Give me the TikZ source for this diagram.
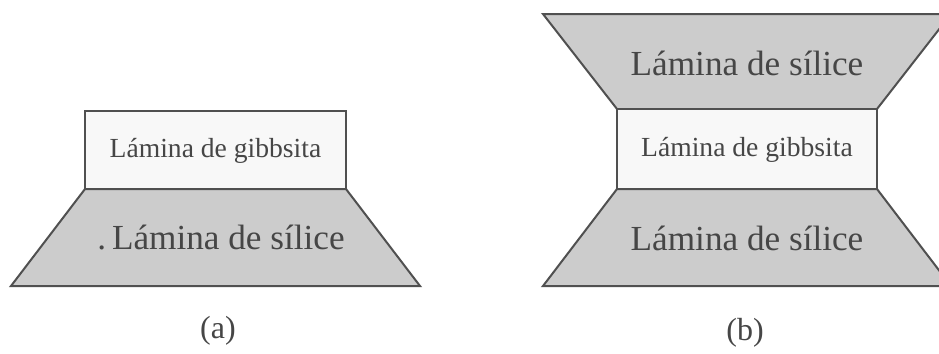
\documentclass[tikz,border=0pt]{standalone}
\usepackage{fontspec}
\setmainfont{Liberation Serif}
\definecolor{linea}{RGB}{80,80,80}
\definecolor{texto}{RGB}{70,70,70}
\definecolor{silfill}{RGB}{204,204,204}
\definecolor{gibfill}{RGB}{248,248,248}

\begin{document}
\begin{tikzpicture}[x=0.5pt, y=-0.5pt,
    lamina/.style={draw=linea, line width=1pt, line join=miter},
    txtgib/.style={text=texto, font=\fontsize{13.8}{16}\selectfont},
    txtsil/.style={text=texto, font=\fontsize{17.6}{20}\selectfont},
    rotulo/.style={text=texto, font=\fontsize{16}{18}\selectfont}]
      \useasboundingbox (0,0) rectangle (939,354);
      \clip (0,0) rectangle (939,354);

      % (a): gibbsita sobre una lamina de silice
      \draw[lamina, fill=gibfill] (85,111) rectangle (346,189);
      \draw[lamina, fill=silfill] (85,189) -- (346,189) -- (420,286) -- (11,286) -- cycle;
      \node[txtgib] (gibA) at (215.5,151) {Lámina de gibbsita};
      \node[txtsil] (silA) at (221,238) {.\,Lámina de sílice};
      \node[rotulo] (a) at (218,331) {(a)};

      % (b): gibbsita entre dos laminas de silice
      \draw[lamina, fill=silfill] (543,14) -- (951,14) -- (877,109) -- (617,109) -- cycle;
      \draw[lamina, fill=gibfill] (617,109) rectangle (877,189);
      \draw[lamina, fill=silfill] (617,189) -- (877,189) -- (951,286) -- (543,286) -- cycle;
      \node[txtsil] (silB1) at (747,63) {Lámina de sílice};
      \node[txtgib] (gibB) at (747,150) {Lámina de gibbsita};
      \node[txtsil] (silB2) at (747,238) {Lámina de sílice};
      \node[rotulo] (b) at (745,333) {(b)};
\end{tikzpicture}
\end{document}
